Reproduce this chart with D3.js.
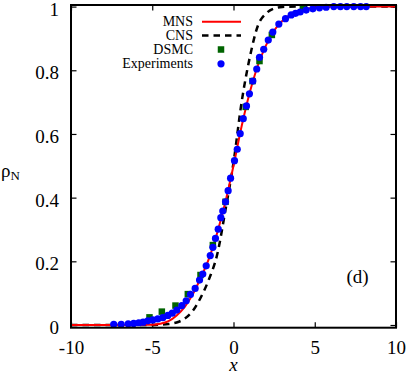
<!DOCTYPE html>
<html>
<head>
<meta charset="utf-8">
<script src="https://cdn.jsdelivr.net/npm/d3@7"></script>
<style>
  body { margin: 0; background: #fff; }
  text { font-family: "Liberation Serif", "DejaVu Serif", serif; fill: #000; }
</style>
</head>
<body>
<div id="chart"></div>
<script>
// MNS profile (red solid)
var mnsX = [-10, -6, -5.5, -5, -4.5, -4, -3.5, -3, -2.5, -2, -1.5, -1, -0.5, 0, 0.5, 1, 1.5, 2, 2.5, 3, 3.5, 4, 5, 6, 10];
var mnsY = [0, 0, 0.0005, 0.001, 0.004, 0.012, 0.03, 0.057, 0.097, 0.15, 0.21, 0.29, 0.386, 0.5, 0.624, 0.73, 0.815, 0.878, 0.925, 0.955, 0.975, 0.987, 0.997, 1, 1];

// CNS profile (black dashed)
var cnsX = [-10, -5, -4.5, -4, -3.5, -3, -2.5, -2, -1.5, -1, -0.5, 0, 0.5, 1, 1.5, 2, 2.5, 3, 4, 10];
var cnsY = [0, 0, 0.001, 0.003, 0.008, 0.02, 0.045, 0.088, 0.145, 0.222, 0.36, 0.51, 0.7, 0.84, 0.94, 0.978, 0.994, 0.999, 1, 1];

// DSMC (green squares)
var dsmcX = [-5.17, -4.41, -3.57, -2.81, -2.03, -1.27, -0.49, 0.75, 1.17, 1.6, 2.36, 4.27];
var dsmcY = [0.024, 0.042, 0.061, 0.097, 0.157, 0.251, 0.387, 0.685, 0.766, 0.829, 0.911, 0.998];

// Experiments (blue circles)
var expX = [-7.37, -6.91, -6.48, -6.14, -5.83, -5.56, -5.27, -4.97, -4.66, -4.35, -4.04, -3.77, -3.49, -3.18,
            -2.91, -2.65, -2.36, -2.09, -1.89, -1.68, -1.43, -1.27, -1.11, -0.94, -0.78, -0.66, -0.49, -0.33,
            -0.18, 0.06, 0.23, 0.41, 0.60, 0.80, 0.98, 1.19, 1.43, 1.60, 1.86, 2.14, 2.42, 2.79,
            3.20, 3.55, 3.82, 4.10, 4.47, 4.88, 5.29, 5.70, 6.17, 6.58, 6.97, 7.40, 7.82, 8.17];
var expY = [0.002, 0.002, 0.004, 0.005, 0.007, 0.009, 0.013, 0.016, 0.019, 0.023, 0.030, 0.037, 0.047, 0.061,
            0.076, 0.096, 0.115, 0.141, 0.160, 0.186, 0.218, 0.244, 0.272, 0.301, 0.337, 0.358, 0.387, 0.422,
            0.461, 0.516, 0.552, 0.601, 0.648, 0.688, 0.726, 0.766, 0.804, 0.841, 0.866, 0.895, 0.920, 0.945,
            0.962, 0.974, 0.979, 0.983, 0.989, 0.993, 0.996, 0.998, 1.0, 1.0, 1.0, 1.0, 1.0, 1.0];

var xTicks = [-10, -5, 0, 5, 10];
var yTicks = [0, 0.2, 0.4, 0.6, 0.8, 1];
var legendLabels = ['MNS', 'CNS', 'DSMC', 'Experiments'];

function zip(xs, ys) {
    return xs.map(function(x, i) { return {x: x, y: ys[i]}; });
}

var width = 409, height = 375;
var pLeft = 71, pRight = 396, pTop = 5, pBottom = 327.7;
var serif = '"Liberation Serif", "DejaVu Serif", serif';

var svg = d3.select('#chart')
  .append('svg')
    .attr('width', width)
    .attr('height', height);

var x = d3.scaleLinear().domain([-10, 10]).range([pLeft, pRight]);
var y = d3.scaleLinear().domain([0, 1]).range([325, 6.6]);

svg.append('clipPath').attr('id', 'plot')
  .append('rect')
    .attr('x', pLeft).attr('y', pTop)
    .attr('width', pRight - pLeft).attr('height', pBottom - pTop);

// ticks on all four sides, pointing in
var tl = 5.5;
var plain = function(d) { return String(d); };
svg.append('g')
    .attr('transform', 'translate(0,' + pBottom + ')')
    .call(d3.axisBottom(x).tickValues(xTicks).tickSizeInner(-tl).tickSizeOuter(0).tickPadding(12.5).tickFormat(plain))
    .call(function(g) {
        g.select('.domain').remove();
        g.selectAll('text').style('font-family', serif).style('font-size', '19px');
    });
svg.append('g')
    .attr('transform', 'translate(0,' + pTop + ')')
    .call(d3.axisTop(x).tickValues(xTicks).tickSizeInner(-tl).tickSizeOuter(0).tickFormat(''))
    .call(function(g) { g.select('.domain').remove(); });
svg.append('g')
    .attr('transform', 'translate(' + pLeft + ',0)')
    .call(d3.axisLeft(y).tickValues(yTicks).tickSizeInner(-tl).tickSizeOuter(0).tickPadding(12).tickFormat(plain))
    .call(function(g) {
        g.select('.domain').remove();
        g.selectAll('text').style('font-family', serif).style('font-size', '19px').attr('dy', '0.45em');
    });
svg.append('g')
    .attr('transform', 'translate(' + pRight + ',0)')
    .call(d3.axisRight(y).tickValues(yTicks).tickSizeInner(-tl).tickSizeOuter(0).tickFormat(''))
    .call(function(g) { g.select('.domain').remove(); });
svg.selectAll('.tick line').attr('stroke', '#000').attr('stroke-width', 1.2);

var plot = svg.append('g').attr('clip-path', 'url(#plot)');

var line = d3.line()
    .x(function(d) { return x(d.x); })
    .y(function(d) { return y(d.y); })
    .curve(d3.curveMonotoneX);

plot.append('path')
    .datum(zip(cnsX, cnsY))
    .attr('fill', 'none')
    .attr('stroke', '#000')
    .attr('stroke-width', 2.5)
    .attr('stroke-dasharray', '6.5,5')
    .attr('d', line);

plot.append('path')
    .datum(zip(mnsX, mnsY))
    .attr('fill', 'none')
    .attr('stroke', '#ff0000')
    .attr('stroke-width', 2)
    .attr('d', line);

var sq = 6.5;
svg.selectAll('rect.dsmc')
    .data(zip(dsmcX, dsmcY))
    .enter()
    .append('rect')
    .attr('class', 'dsmc')
    .attr('x', function(d) { return x(d.x) - sq / 2; })
    .attr('y', function(d) { return y(d.y) - sq / 2; })
    .attr('width', sq).attr('height', sq)
    .attr('fill', '#006400');

svg.selectAll('circle.exp')
    .data(zip(expX, expY))
    .enter()
    .append('circle')
    .attr('class', 'exp')
    .attr('cx', function(d) { return x(d.x); })
    .attr('cy', function(d) { return y(d.y); })
    .attr('r', 3.6)
    .attr('fill', '#0000ff');

// frame
svg.append('rect')
    .attr('x', pLeft).attr('y', pTop)
    .attr('width', pRight - pLeft).attr('height', pBottom - pTop)
    .attr('fill', 'none')
    .attr('stroke', '#000')
    .attr('stroke-width', 2);

// legend
var lg = svg.append('g');
var rowY = [21.7, 35.5, 49.5, 63.8];
legendLabels.forEach(function(name, i) {
    lg.append('text')
        .attr('x', 193).attr('y', rowY[i])
        .attr('dy', '0.33em')
        .attr('text-anchor', 'end')
        .attr('font-size', 14)
        .text(name);
});
lg.append('line').attr('x1', 202).attr('x2', 241).attr('y1', rowY[0]).attr('y2', rowY[0])
    .attr('stroke', '#ff0000').attr('stroke-width', 2);
lg.append('line').attr('x1', 202).attr('x2', 241).attr('y1', rowY[1]).attr('y2', rowY[1])
    .attr('stroke', '#000').attr('stroke-width', 2.5).attr('stroke-dasharray', '6.5,5');
lg.append('rect').attr('x', 221 - sq / 2).attr('y', rowY[2] - sq / 2).attr('width', sq).attr('height', sq)
    .attr('fill', '#006400');
lg.append('circle').attr('cx', 221).attr('cy', rowY[3]).attr('r', 3.6).attr('fill', '#0000ff');

// axis titles
svg.append('text')
    .attr('x', x(0)).attr('y', 371)
    .attr('text-anchor', 'middle')
    .attr('font-size', 19)
    .attr('font-style', 'italic')
    .text('x');

var yl = svg.append('text').attr('x', 1).attr('y', 177).attr('font-size', 19);
yl.append('tspan').text('\u03c1');
yl.append('tspan').attr('font-size', 13).attr('dy', 3).text('N');

svg.append('text')
    .attr('x', 357.5).attr('y', 283)
    .attr('text-anchor', 'middle')
    .attr('font-size', 19)
    .text('(d)');
</script>
</body>
</html>
